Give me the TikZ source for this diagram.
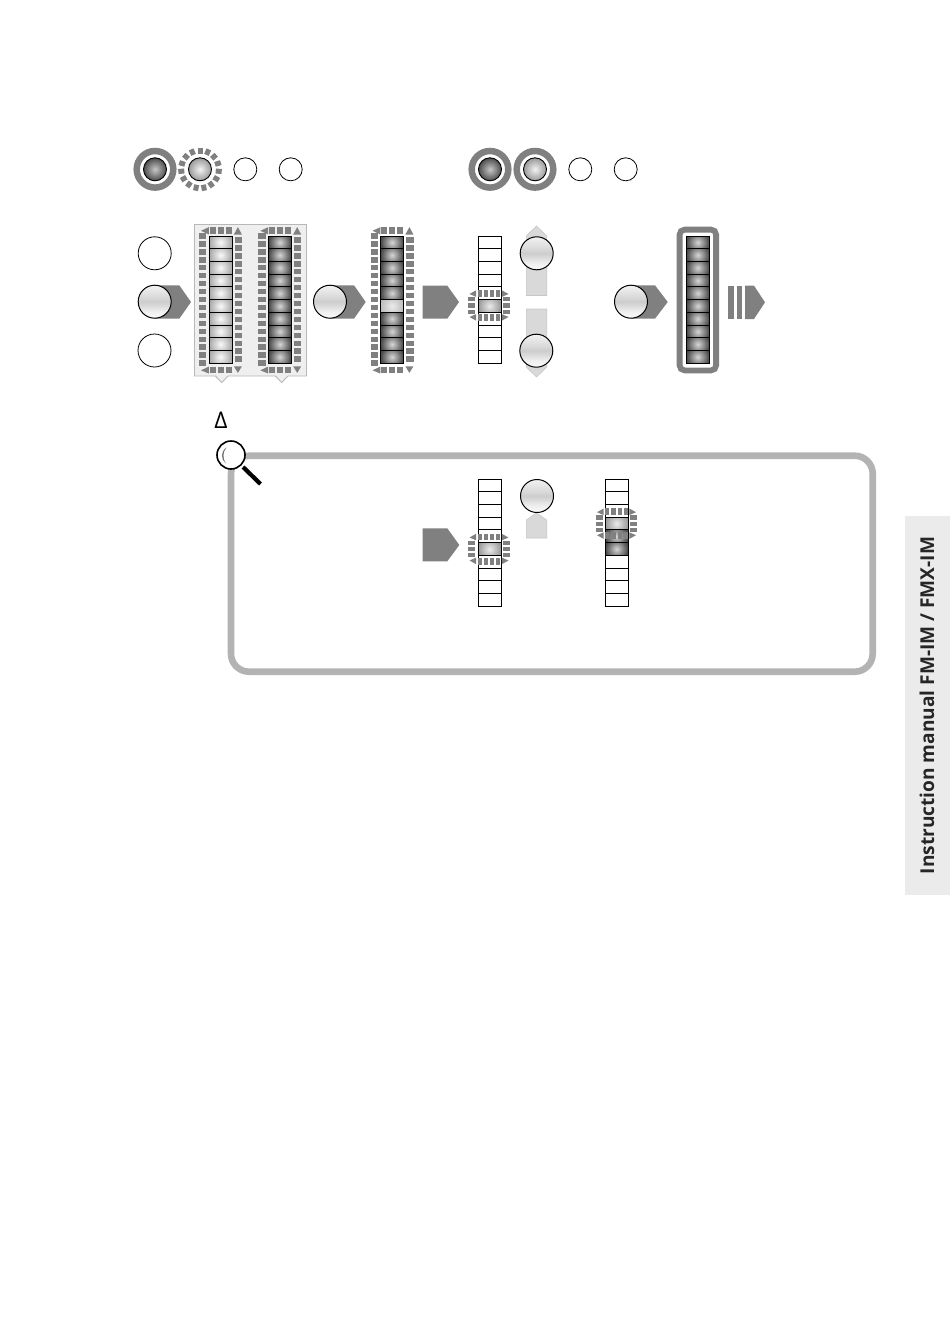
\documentclass[tikz,border=0pt]{standalone}
\usepackage{fontspec}
\setmainfont{Open Sans}
\definecolor{arrowgray}{HTML}{808080}
\definecolor{framegray}{HTML}{B3B3B3}
\definecolor{panelfill}{HTML}{EFEFEF}
\definecolor{paleshape}{HTML}{D9D9D9}
\definecolor{tabfill}{HTML}{EBEBEB}
\pgfdeclareverticalshading{glossbtn}{100bp}{
  color(0bp)=(white!98!black); color(25bp)=(white!98!black);
  color(35bp)=(white!94!black); color(50bp)=(white!80!black);
  color(55bp)=(white!84!black); color(75bp)=(white!95!black); color(100bp)=(white!95!black)}
\tikzset{
  arrowshape/.style={fill=arrowgray,draw=none},
  paleshape/.style={fill=paleshape,draw=white!78!black,line width=.6pt},
  dashpiece/.style={fill=arrowgray,draw=none},
  thinring/.style={draw=black,line width=.8pt,fill=white},
  ledline/.style={draw=black,line width=1pt},
  ringstroke/.style={draw=arrowgray,line width=6.5pt},
  glossy/.style={shading=glossbtn,draw=black,line width=1pt}
}
\newcommand\shcell[5]{%
  \begin{scope}
    \clip (#1,{#2+12.73*#3}) rectangle ++(23,12.73);
    \shade[inner color=#4,outer color=#5] (#1,{#2+12.73*#3-5}) rectangle ++(23,22.73);
  \end{scope}}
\newcommand\barlines[2]{%
  \foreach \k in {1,...,9} {\draw[black,line width=.9pt] (#1,{#2+12.73*\k}) -- ++(23,0);}
  \draw[black,line width=1pt] (#1,#2) rectangle ++(23,127.3);}
\newcommand\darkbar[2]{\foreach \k in {0,...,9} {\shcell{#1}{#2}{\k}{white!84!black}{white!28!black}}}
\newcommand\lightbar[2]{\foreach \k in {0,...,9} {\shcell{#1}{#2}{\k}{white!98!black}{white!66!black}}}
\newcommand\dashframe[4]{%
  \foreach \i in {0,...,16} {\fill[dashpiece] ({#1-10},{#3+7.94*\i-2.7}) rectangle ++(7.2,5.4);}
  \foreach \i in {0,...,15} {\fill[dashpiece] ({#2+2.8},{#3+4+7.94*\i-2.7}) rectangle ++(7.2,5.4);}
  \foreach \d in {-8,0,8} {
    \fill[dashpiece] ({(#1+#2)/2+\d-3},{#3-8.6}) rectangle ++(6,6.6);
    \fill[dashpiece] ({(#1+#2)/2+\d-3},{#4+3.2}) rectangle ++(6,6.6);}
  \fill[dashpiece] ({#1-.2},{#3-8.8}) -- ({#1-.2},{#3-1.6}) -- ({#1-8},{#3-5.2}) -- cycle;
  \fill[dashpiece] ({#2+1.9},{#3-1.5}) -- ({#2+9.9},{#3-1.5}) -- ({#2+5.9},{#3-8.9}) -- cycle;
  \fill[dashpiece] ({#2+1.9},{#4+3}) -- ({#2+9.9},{#4+3}) -- ({#2+5.9},{#4+9.6}) -- cycle;
  \fill[dashpiece] ({#1-.2},{#4+3.3}) -- ({#1-.2},{#4+10.2}) -- ({#1-8},{#4+7}) -- cycle;}
\newcommand\minidash[2]{%
  \foreach \d in {-9.3,-3.1,3.1,9.3} {
    \fill[dashpiece] ({#1+\d-2.1},{#2-15.5}) rectangle ++(4.2,6.8);
    \fill[dashpiece] ({#1+\d-2.1},{#2+8.7}) rectangle ++(4.2,6.8);}
  \foreach \d in {-6.3,0,6.3} {
    \fill[dashpiece] ({#1-20.7},{#2+\d-2.1}) rectangle ++(6.8,4.2);
    \fill[dashpiece] ({#1+13.9},{#2+\d-2.1}) rectangle ++(6.8,4.2);}
  \foreach \s in {-1,1} \foreach \t in {-1,1} {
    \fill[dashpiece] ({#1+\s*12.8},{#2+\t*15.2}) -- ({#1+\s*12.8},{#2+\t*8.6}) -- ({#1+\s*19.5},{#2+\t*11.5}) -- cycle;}}
\newcommand\glossbutton[2]{\path[glossy] (#1,#2) circle (16.5);}
\newcommand\ledball[4]{\shade[inner color=#3,outer color=#4] (#1,#2) circle (11.5);
  \draw[black,line width=.9pt] (#1,#2) circle (11.5);}
\begin{document}
\begin{tikzpicture}[x=1pt,y=-1pt]
\useasboundingbox (0,0) rectangle (950,1339);
\fill[white] (0,0) rectangle (950,1339);
% top LEDs, left group
\draw[ringstroke] (155,169.3) circle (18.3);
\ledball{155}{169.3}{white!78!black}{white!30!black}
\foreach \a in {0,24,...,336} {\draw[arrowgray,line width=5pt] (200,169.3) ++(\a+6:15.8) -- ++(\a+6:6);}
\ledball{200}{169.3}{white!95!black}{white!60!black}
\path[thinring] (245.3,169.3) circle (11.5);
\path[thinring] (290.7,169.3) circle (11.5);
% top LEDs, right group
\draw[ringstroke] (490,169.3) circle (18.3);
\ledball{490}{169.3}{white!78!black}{white!30!black}
\draw[ringstroke] (535,169.3) circle (18.3);
\ledball{535}{169.3}{white!95!black}{white!60!black}
\path[thinring] (580.3,169.3) circle (11.5);
\path[thinring] (625.7,169.3) circle (11.5);
% mode buttons
\path[thinring] (154.7,253.3) circle (16.5);
\path[thinring] (154.5,350.5) circle (16.5);
\path[arrowshape] (154,285.3) -- (179.3,285.3) -- (191,302) -- (179.3,318.7) -- (154,318.7) -- cycle;
\glossbutton{154.7}{301.7}
% panel with both bars
\path[fill=panelfill,draw=white!72!black,line width=.9pt] (194.5,224.5) -- (306.5,224.5) -- (306.5,376) -- (288,376) -- (281.7,382.5) -- (275.4,376) -- (228,376) -- (221.7,382.5) -- (215.4,376) -- (194.5,376) -- cycle;
\dashframe{209}{232}{236}{363.3}
\lightbar{209}{236}
\barlines{209}{236}
\dashframe{268.3}{291.3}{236}{363.3}
\darkbar{268.3}{236}
\barlines{268.3}{236}
% second arrow and dark bar with a light step
\path[arrowshape] (330,285.3) -- (354,285.3) -- (365.7,302) -- (354,318.7) -- (330,318.7) -- cycle;
\glossbutton{330}{301.7}
\dashframe{380.5}{403.5}{236}{363.3}
\darkbar{380.5}{236}
\shcell{380.5}{236}{5}{white!92!black}{white!74!black}
\barlines{380.5}{236}
% third arrow and white bar
\path[arrowshape] (422.7,285.7) -- (447.3,285.7) -- (459,302) -- (447.3,318.7) -- (422.7,318.7) -- cycle;
\path[fill=white] (478,236) rectangle ++(23,127.3);
\shcell{478}{236}{5}{white!92!black}{white!60!black}
\barlines{478}{236}
\minidash{489}{305.5}
% slider buttons
\path[paleshape] (526.3,295.5) -- (526.3,236) -- (536.5,226) -- (546.7,236) -- (546.7,295.5) -- cycle;
\glossbutton{536.7}{253.3}
\path[paleshape] (526.3,309) -- (526.3,367) -- (536.5,377) -- (546.7,367) -- (546.7,309) -- cycle;
\glossbutton{536.3}{350.7}
% fourth arrow, framed bar, triple arrow
\path[arrowshape] (631,285.3) -- (655,285.3) -- (667.7,302) -- (655,318.7) -- (631,318.7) -- cycle;
\glossbutton{631}{301.7}
\draw[arrowgray,line width=5.8pt,rounded corners=5pt] (679.6,229.6) rectangle (716.1,370.4);
\darkbar{686.3}{236}
\barlines{686.3}{236}
\fill[arrowgray] (728.3,285.7) rectangle (734,319);
\fill[arrowgray] (736.7,285.7) rectangle (742.3,319);
\path[arrowshape] (745,285.7) -- (754,285.7) -- (765,302.3) -- (754,319) -- (745,319) -- cycle;
% delta
\node[inner sep=0pt,font=\fontsize{23}{23}\selectfont] (deltalabel) at (221,420) {Δ};
% info frame
\draw[framegray,line width=6.6pt,rounded corners=18pt] (231,455.7) rectangle (872.7,671.7);
% magnifier
\draw[black,line width=4.2pt] (243,467) -- (260.5,484);
\path[draw=black,line width=1.6pt,fill=white] (231,455) circle (14);
\path[fill=black!55] (226.5,447.5) .. controls (220.5,451.5) and (220.5,459.5) .. (226,463.5) .. controls (222.5,459) and (222.5,452) .. (226.5,447.5) -- cycle;
% info frame content
\path[arrowshape] (422.7,528.3) -- (447.3,528.3) -- (459.3,545) -- (447.3,561.3) -- (422.7,561.3) -- cycle;
\path[fill=white] (478,479) rectangle ++(23,127.3);
\shcell{478}{479}{5}{white!92!black}{white!60!black}
\barlines{478}{479}
\minidash{489}{549}
\path[paleshape] (526.3,538) -- (526.3,520) -- (536.5,513) -- (546.7,520) -- (546.7,538) -- cycle;
\glossbutton{537}{496}
\path[fill=white] (605,479) rectangle ++(23,127.3);
\shcell{605}{479}{3}{white!92!black}{white!60!black}
\shcell{605}{479}{4}{white!84!black}{white!28!black}
\shcell{605}{479}{5}{white!84!black}{white!28!black}
\barlines{605}{479}
\minidash{616.5}{523.7}
% side tab
\fill[tabfill] (905,516) rectangle (950,895);
\node[rotate=90,inner sep=0pt,font=\bfseries\fontsize{19.1}{20}\selectfont,text=black!85] (tablabel) at (927,705.5) {Instruction manual FM-IM / FMX-IM};
\end{tikzpicture}
\end{document}
